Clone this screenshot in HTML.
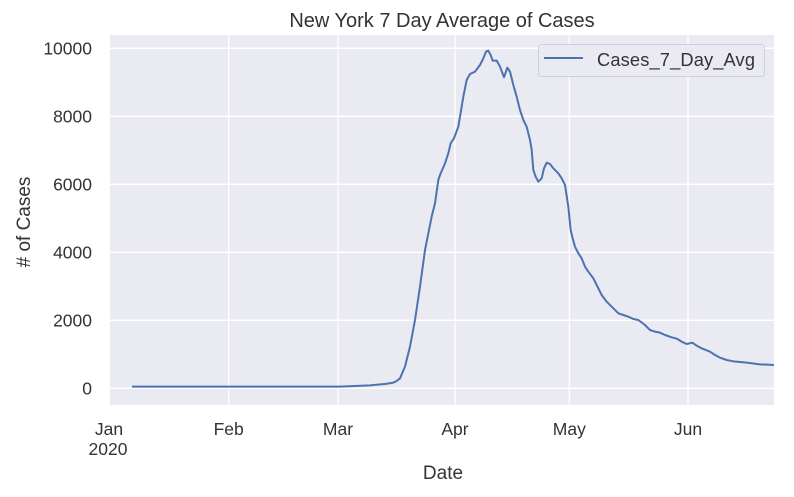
<!DOCTYPE html>
<html><head><style>
body{margin:0;background:#fff;}
svg text{font-family:"Liberation Sans",sans-serif;fill:#333;}
</style></head><body>
<svg width="794" height="492" viewBox="0 0 794 492" xmlns="http://www.w3.org/2000/svg">
<rect x="110" y="35" width="664" height="370" fill="#eaeaf2"/>
<g stroke="#fff" stroke-width="1.3">
<line x1="110" x2="774" y1="48.3" y2="48.3"/>
<line x1="110" x2="774" y1="116.3" y2="116.3"/>
<line x1="110" x2="774" y1="184.3" y2="184.3"/>
<line x1="110" x2="774" y1="252.3" y2="252.3"/>
<line x1="110" x2="774" y1="320.3" y2="320.3"/>
<line x1="110" x2="774" y1="388.3" y2="388.3"/>
<line x1="228.7" x2="228.7" y1="35" y2="405"/>
<line x1="338" x2="338" y1="35" y2="405"/>
<line x1="455" x2="455" y1="35" y2="405"/>
<line x1="569.3" x2="569.3" y1="35" y2="405"/>
<line x1="688" x2="688" y1="35" y2="405"/>
</g>
<g transform="translate(400,0) scale(0.33333)">
<polyline fill="none" stroke="#4c72b0" stroke-width="6" stroke-linejoin="round" points="-804,1160 -180,1160 -90,1156 -45,1152 -20,1148 -10,1143 0,1135 15,1100 30,1040 45,960 60,860 75,750 85,700 95,650 105,610 115,540 120,525 135,490 145,460 152,430 162,415 175,380 180,350 190,290 200,240 210,222 225,215 240,195 250,175 258,155 265,152 272,165 278,182 290,182 300,200 312,232 322,203 330,215 340,255 350,290 360,330 370,360 380,380 390,420 395,450 400,510 407,530 415,545 425,535 432,505 440,488 450,492 460,505 475,520 485,535 495,555 505,620 512,690 518,715 525,740 535,760 545,775 555,800 565,815 580,835 595,865 605,885 620,905 640,925 655,940 670,945 685,950 700,957 715,960 735,975 750,990 765,995 780,998 795,1005 815,1012 830,1016 845,1025 860,1032 877,1028 890,1037 905,1045 930,1055 945,1065 960,1073 980,1080 1000,1084 1040,1088 1080,1093 1122,1095"/>
</g>
<rect x="538.5" y="44.5" width="226" height="32" rx="3" fill="#eaeaf2" stroke="#d0d0d8" stroke-width="1"/>
<line x1="544" x2="583" y1="58" y2="58" stroke="#4c72b0" stroke-width="2"/>
<text x="597" y="66" font-size="18.3" textLength="158">Cases_7_Day_Avg</text>
<text x="442" y="27" font-size="20" text-anchor="middle">New York 7 Day Average of Cases</text>
<g font-size="17.5" text-anchor="end">
<text x="92" y="54.5">10000</text>
<text x="92" y="122.5">8000</text>
<text x="92" y="190.5">6000</text>
<text x="92" y="258.5">4000</text>
<text x="92" y="326.5">2000</text>
<text x="92" y="394.5">0</text>
</g>
<g font-size="17.5" text-anchor="middle">
<text x="109" y="435">Jan</text>
<text x="108" y="455">2020</text>
<text x="228.7" y="435">Feb</text>
<text x="338" y="435">Mar</text>
<text x="455" y="435">Apr</text>
<text x="569.3" y="435">May</text>
<text x="688" y="435">Jun</text>
<text x="443" y="479" font-size="19">Date</text>
</g>
<text transform="translate(30,222) rotate(-90)" font-size="19" text-anchor="middle"># of Cases</text>
</svg>
</body></html>
